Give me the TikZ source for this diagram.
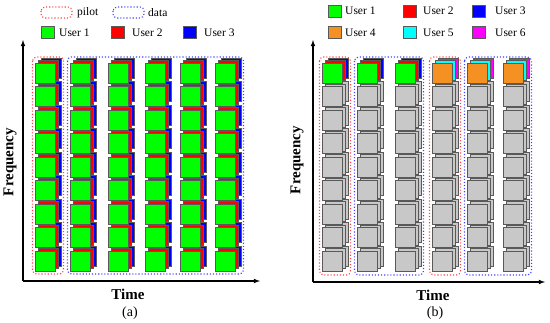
\documentclass[tikz,border=0pt]{standalone}
\usepackage{fontspec}
\setmainfont{Liberation Serif}
\usetikzlibrary{positioning}
\definecolor{ugreen}{RGB}{0,255,0}
\definecolor{ured}{RGB}{255,0,0}
\definecolor{ublue}{RGB}{0,0,255}
\definecolor{uorange}{RGB}{245,145,35}
\definecolor{ucyan}{RGB}{0,255,255}
\definecolor{umagenta}{RGB}{255,0,255}
\definecolor{cellgray}{RGB}{200,200,200}
\tikzset{
  cell/.style={draw=gray!70!black,line width=0.3pt},
  legsq/.style={cell,minimum width=13pt,minimum height=12pt,inner sep=0pt},
  legtxt/.style={anchor=west,inner sep=0pt,font=\fontsize{11.5}{13}\selectfont},
  pilotbox/.style={draw=red!75,dotted,line width=1.1pt,rounded corners=4pt},
  databox/.style={draw=blue!75,dotted,line width=1.1pt,rounded corners=4pt},
  axis/.style={line width=1.1pt,->,>=latex},
  axlabel/.style={font=\fontsize{15}{17}\selectfont\bfseries},
  sublabel/.style={font=\fontsize{14}{16}\selectfont},
}
% one resource cell with its two layers behind
\newcommand{\stackcell}[5]{%
  \filldraw[cell,fill=#3] (#1+6,#2-5) rectangle ++(20,20);
  \filldraw[cell,fill=#4] (#1+3,#2-2.5) rectangle ++(20,20);
  \filldraw[cell,fill=#5] (#1,#2) rectangle ++(20,20);}

\begin{document}
\begin{tikzpicture}[x=1pt,y=-1pt]
\useasboundingbox (0,0) rectangle (550,323);

% (a) legend
\draw[pilotbox] (41,7) rectangle (72,18);
\node[legtxt] (pilotlab) at (77,12.5) {pilot};
\draw[databox] (113,7) rectangle (144,18);
\node[legtxt] (datalab) at (148,12.5) {data};
\node[legsq,fill=ugreen] (lga) at (47.5,32.5) {};
\node[legtxt] (lgatxt) at (59,32.5) {User 1};
\node[legsq,fill=ured] (lgb) at (117.5,32.5) {};
\node[legtxt] (lgbtxt) at (132,32.5) {User 2};
\node[legsq,fill=ublue] (lgc) at (189.5,32.5) {};
\node[legtxt] (lgctxt) at (204,32.5) {User 3};

% (a) grid
\foreach \cx in {35,70,108,145,180,215}
  \foreach \r in {8,...,0}
    \stackcell{\cx}{63+23.5*\r}{ublue}{ured}{ugreen};
\draw[pilotbox] (32.5,57) rectangle (63.5,274);
\draw[databox] (67.5,57) rectangle (243.5,274);

% (a) axes
\coordinate (oa) at (23,281);
\coordinate (fa) at (23,40);
\coordinate (ta) at (260,281);
\draw[axis] (oa) -- (fa);
\draw[axis] (oa) -- (ta);
\node[axlabel,rotate=90] (freqa) at (10,162) {Frequency};
\node[axlabel] (timea) at (128,294) {Time};
\node[sublabel] (capa) at (130,313) {(a)};

% (b) legend
\node[legsq,fill=ugreen] (lgd) at (334.5,11) {};
\node[legtxt] (lgdtxt) at (345,11) {User 1};
\node[legsq,fill=ured] (lge) at (410,11) {};
\node[legtxt] (lgetxt) at (423,11) {User 2};
\node[legsq,fill=ublue] (lgf) at (478.5,11) {};
\node[legtxt] (lgftxt) at (495,11) {User 3};
\node[legsq,fill=uorange] (lgg) at (334.5,32.5) {};
\node[legtxt] (lggtxt) at (345,32.5) {User 4};
\node[legsq,fill=ucyan] (lgh) at (410,32.5) {};
\node[legtxt] (lghtxt) at (423,32.5) {User 5};
\node[legsq,fill=umagenta] (lgi) at (478.5,32.5) {};
\node[legtxt] (lgitxt) at (495,32.5) {User 6};

% (b) grid
\foreach \cx in {322,357,395,432,467,503}
  \foreach \r in {8,...,1}
    \stackcell{\cx}{63+23.5*\r}{cellgray}{cellgray}{cellgray};
\foreach \cx in {322,357,395}
  \stackcell{\cx}{63}{ublue}{ured}{ugreen};
\foreach \cx in {432,467,503}
  \stackcell{\cx}{63}{umagenta}{ucyan}{uorange};
\draw[pilotbox] (319.5,57) rectangle (350.5,275);
\draw[databox] (354.5,57) rectangle (423.5,275);
\draw[pilotbox] (429.5,57) rectangle (460.5,275);
\draw[databox] (464.5,57) rectangle (531.5,275);

% (b) axes
\coordinate (ob) at (313,282);
\coordinate (fb) at (313,40);
\coordinate (tb) at (545,282);
\draw[axis] (ob) -- (fb);
\draw[axis] (ob) -- (tb);
\node[axlabel,rotate=90] (freqb) at (297,160) {Frequency};
\node[axlabel] (timeb) at (433,295) {Time};
\node[sublabel] (capb) at (435,313) {(b)};
\end{tikzpicture}
\end{document}
